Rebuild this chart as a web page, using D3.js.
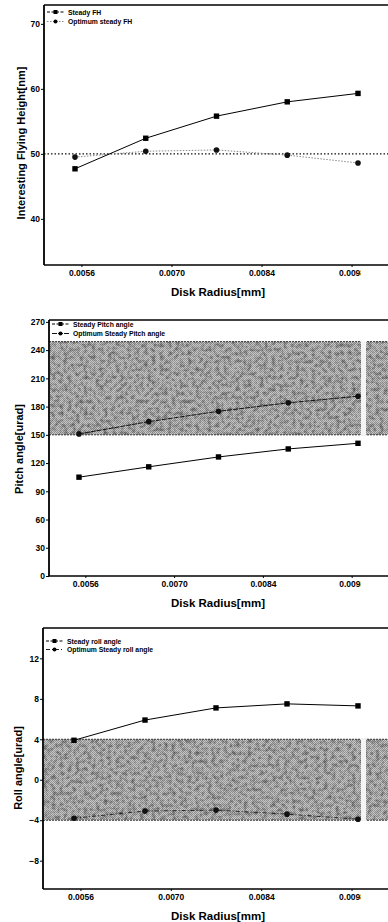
<!DOCTYPE html>
<html>
<head>
<meta charset="utf-8">
<script src="https://cdn.jsdelivr.net/npm/d3@7/dist/d3.min.js"></script>
<style>
  body { margin: 0; background: #fff; }
  svg { display: block; font-family: "Liberation Sans", Arial, sans-serif; font-weight: bold; }
</style>
</head>
<body>
<div id="chart"></div>
<script>

// disk radius values (x) and axis ticks
var diskRadius = [0.0055, 0.0066, 0.0077, 0.0088, 0.0099];
var xTicks = [0.0056, 0.0070, 0.0084, 0.0098];

/* flying height */
var steadyFH = [47.7, 52.4, 55.8, 58.0, 59.3];
var optimumFH = [49.5, 50.4, 50.6, 49.8, 48.6];
var fhTicks = [40, 50, 60, 70];
var fhTarget = 50;

/* pitch angle */
var steadyPitch = [105, 116, 126.5, 135, 141];
var optimumPitch = [151, 164, 175, 184, 191];
var pitchTicks = [0, 30, 60, 90, 120, 150, 180, 210, 240, 270];
var pitchBand = [150, 249];

/* roll angle */
var steadyRoll = [3.9, 5.9, 7.1, 7.5, 7.3];
var optimumRoll = [-3.8, -3.1, -3.0, -3.4, -3.9];
var rollTicks = [-8, -4, 0, 4, 8, 12];
var rollBand = [-4, 4];

var W = 388, H = 922;

var svg = d3.select("#chart").append("svg")
    .attr("width", W)
    .attr("height", H);

var defs = svg.append("defs");

// halftone looking grey for the tolerance band
var pat = defs.append("pattern")
    .attr("id", "halftone")
    .attr("width", 2).attr("height", 2)
    .attr("patternUnits", "userSpaceOnUse");
pat.append("rect").attr("width", 2).attr("height", 2).attr("fill", "#c8c8c8");
pat.append("rect").attr("x", 0).attr("y", 0).attr("width", 1).attr("height", 1).attr("fill", "#909090");
pat.append("rect").attr("x", 1).attr("y", 1).attr("width", 1).attr("height", 1).attr("fill", "#989898");

var grain = defs.append("filter").attr("id", "grain")
    .attr("x", 0).attr("y", 0).attr("width", 1).attr("height", 1);
grain.append("feTurbulence").attr("type", "fractalNoise")
    .attr("baseFrequency", 0.25).attr("numOctaves", 3).attr("seed", 7).attr("result", "n");
grain.append("feColorMatrix").attr("in", "n").attr("type", "matrix")
    .attr("values", "0 0 0 0 0  0 0 0 0 0  0 0 0 0 0  0 0 0 1.0 -0.42")
    .attr("result", "a");
grain.append("feComposite").attr("in", "a").attr("in2", "SourceGraphic").attr("operator", "in");

defs.append("clipPath").attr("id", "cut")
    .append("rect").attr("x", 0).attr("y", 0).attr("width", 361).attr("height", H);


function drawChart(cfg){

    var x = d3.scaleLinear()
        .domain([diskRadius[0], diskRadius[diskRadius.length-1]])
        .range([cfg.x0, cfg.x1]);

    var y = d3.scaleLinear()
        .domain(cfg.yDomain)
        .range([cfg.bottom, cfg.top]);

    var g = svg.append("g");

    // shaded band
    if (cfg.band){
        var by = y(cfg.band[1]), bh = y(cfg.band[0]) - y(cfg.band[1]);
        g.append("rect")
            .attr("x", cfg.left + 1).attr("y", by)
            .attr("width", W - cfg.left - 1).attr("height", bh)
            .attr("fill", "url(#halftone)");
        g.append("rect")
            .attr("x", cfg.left + 1).attr("y", by)
            .attr("width", W - cfg.left - 1).attr("height", bh)
            .attr("fill", "#555")
            .attr("filter", "url(#grain)");
        g.append("line")
            .attr("x1", cfg.left).attr("x2", W).attr("y1", by).attr("y2", by)
            .style("stroke", "#333").style("stroke-width", 1).style("stroke-dasharray", "2,1");
        g.append("line")
            .attr("x1", cfg.left).attr("x2", W).attr("y1", by + bh).attr("y2", by + bh)
            .style("stroke", "#333").style("stroke-width", 1).style("stroke-dasharray", "2,1");
        // scanner seam
        g.append("rect")
            .attr("x", 361).attr("y", by - 1)
            .attr("width", 5).attr("height", bh + 2)
            .attr("fill", "#f4f4f4");
    }

    if (cfg.target !== undefined){
        g.append("line")
            .attr("x1", cfg.left).attr("x2", W)
            .attr("y1", y(cfg.target)).attr("y2", y(cfg.target))
            .style("stroke", "#111")
            .style("stroke-width", 1.2)
            .style("stroke-dasharray", "1.5,2");
    }

    // frame
    g.append("line").attr("x1", cfg.left).attr("x2", W)
        .attr("y1", cfg.top).attr("y2", cfg.top)
        .style("stroke", "#000").style("stroke-width", 1.5);
    g.append("line").attr("x1", cfg.left).attr("x2", W)
        .attr("y1", cfg.bottom).attr("y2", cfg.bottom)
        .style("stroke", "#000").style("stroke-width", 1.5);

    // y axis
    var yAxis = g.append("g")
        .attr("transform", "translate(" + cfg.left + ",0)")
        .call(d3.axisLeft(y).tickValues(cfg.yTicks).tickSize(3).tickPadding(1));
    yAxis.select(".domain").attr("d", "M0," + cfg.top + "V" + cfg.bottom)
        .style("stroke", "#000").style("stroke-width", 1.8);
    yAxis.selectAll("text").attr("font-size", 8.5).attr("font-family", null).attr("fill", "#000");

    // x axis labels (cut off at the seam like the scan)
    var xAxis = g.append("g")
        .attr("transform", "translate(0," + cfg.bottom + ")")
        .attr("clip-path", "url(#cut)")
        .call(d3.axisBottom(x).tickValues(xTicks).tickSize(2).tickPadding(3)
            .tickFormat(d3.format(".4f")));
    xAxis.select(".domain").remove();
    xAxis.selectAll("text").attr("font-size", 8.5).attr("font-family", null).attr("fill", "#000");

    g.append("text")
        .attr("x", 218)
        .attr("y", cfg.bottom + 31)
        .attr("text-anchor", "middle")
        .attr("font-size", 11.5)
        .attr("fill", "#000")
        .text("Disk Radius[mm]");

    g.append("text")
        .attr("transform", "translate(" + cfg.titleX + "," + cfg.titleY + ") rotate(-90)")
        .attr("text-anchor", "middle")
        .attr("font-size", 11)
        .attr("fill", "#000")
        .text(cfg.yTitle);

    var line = d3.line()
        .x(function(d, i){ return x(diskRadius[i]); })
        .y(function(d){ return y(d); });

    // optimum series
    g.append("path")
        .datum(cfg.optimum)
        .attr("d", line)
        .style("fill", "none")
        .style("stroke", cfg.optColor)
        .style("stroke-width", 1)
        .style("stroke-dasharray", cfg.optDash);
    g.selectAll(".opt")
        .data(cfg.optimum)
        .enter().append("circle")
        .attr("cx", function(d, i){ return x(diskRadius[i]); })
        .attr("cy", function(d){ return y(d); })
        .attr("r", 2.8)
        .style("fill", "#111");

    // steady series
    g.append("path")
        .datum(cfg.steady)
        .attr("d", line)
        .style("fill", "none")
        .style("stroke", "#000")
        .style("stroke-width", 1);
    g.selectAll(".std")
        .data(cfg.steady)
        .enter().append("rect")
        .attr("x", function(d, i){ return x(diskRadius[i]) - 2.7; })
        .attr("y", function(d){ return y(d) - 2.7; })
        .attr("width", 5.4)
        .attr("height", 5.4)
        .style("fill", "#000");

    // legend
    var lg = g.append("g").attr("transform", "translate(" + (cfg.left + 3) + "," + cfg.legendY + ")");
    var items = [
        {name: cfg.steadyName, dash: "3,1.5", color: "#000", sq: true},
        {name: cfg.optName, dash: cfg.optDash, color: cfg.optColor, sq: false}
    ];
    items.forEach(function(it, i){
        var yy = i * cfg.legendGap;
        lg.append("line").attr("x1", 0).attr("x2", 17).attr("y1", yy).attr("y2", yy)
            .style("stroke", it.color).style("stroke-width", 1)
            .style("stroke-dasharray", it.dash);
        if (it.sq){
            lg.append("rect").attr("x", 6.5).attr("y", yy - 2).attr("width", 4).attr("height", 4).style("fill", "#000");
        } else {
            lg.append("circle").attr("cx", 8.5).attr("cy", yy).attr("r", 2).style("fill", "#000");
        }
        lg.append("text").attr("x", 21).attr("y", yy + 2.5)
            .attr("font-size", 6.8)
            .attr("fill", "#000")
            .text(it.name);
    });
}

drawChart({
    left: 44, top: 5, bottom: 265, x0: 75, x1: 358,
    yDomain: [32.9, 72.9], yTicks: fhTicks,
    steady: steadyFH, optimum: optimumFH,
    steadyName: "Steady FH", optName: "Optimum steady FH",
    optColor: "#8a8a8a", optDash: "1.5,1.5",
    target: fhTarget,
    yTitle: "Interesting Flying Height[nm]", titleX: 25, titleY: 143,
    legendY: 12, legendGap: 9.5
});

drawChart({
    left: 49, top: 320, bottom: 576, x0: 79, x1: 358,
    yDomain: [0, 272], yTicks: pitchTicks,
    steady: steadyPitch, optimum: optimumPitch,
    steadyName: "Steady Pitch angle", optName: "Optimum Steady Pitch angle",
    optColor: "#111", optDash: "5,1",
    band: pitchBand,
    yTitle: "Pitch angle[urad]", titleX: 23, titleY: 449,
    legendY: 324, legendGap: 9.5
});

drawChart({
    left: 43, top: 628, bottom: 889, x0: 74, x1: 358,
    yDomain: [-10.8, 15], yTicks: rollTicks,
    steady: steadyRoll, optimum: optimumRoll,
    steadyName: "Steady roll angle", optName: "Optimum Steady roll angle",
    optColor: "#222", optDash: "4,2,1,2",
    band: rollBand,
    yTitle: "Roll angle[urad]", titleX: 22, titleY: 768,
    legendY: 641, legendGap: 8.5
});

</script>
</body>
</html>
